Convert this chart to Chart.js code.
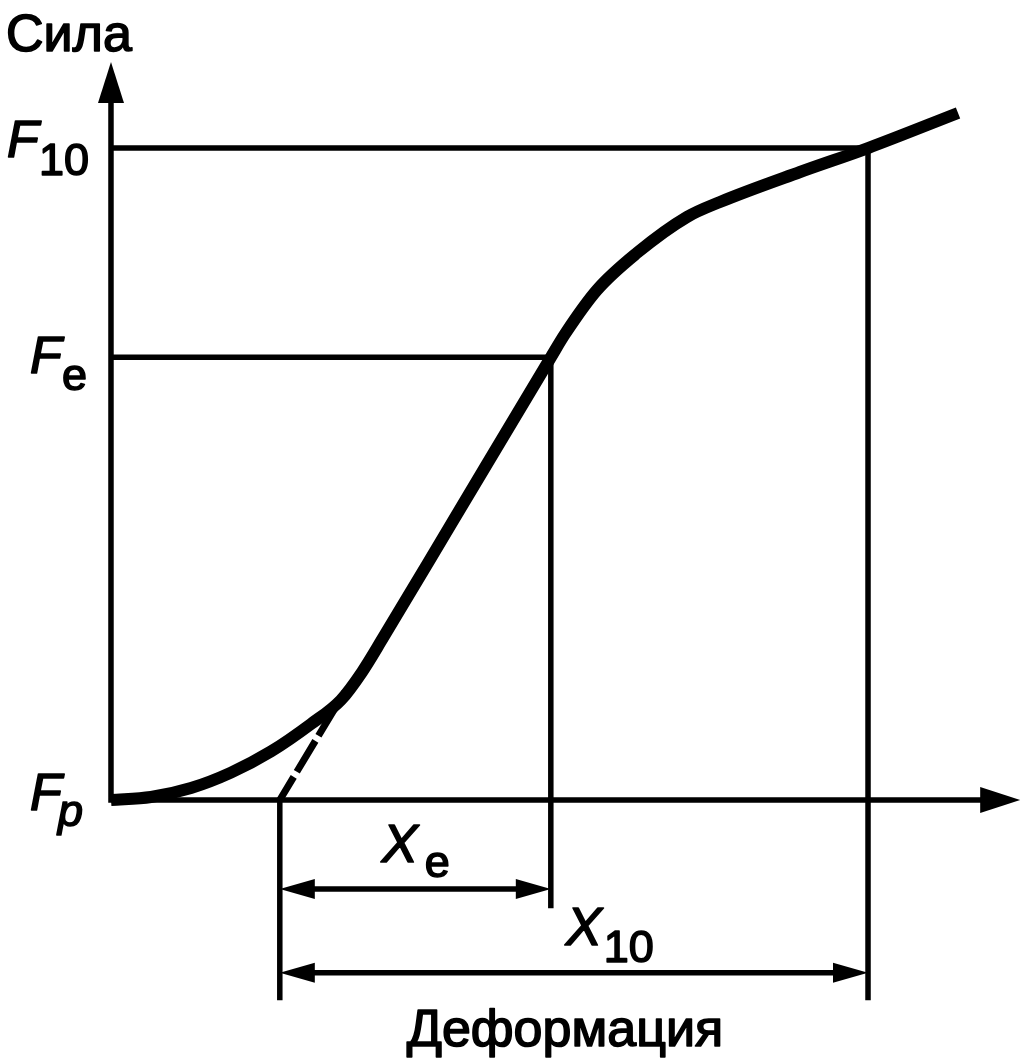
<!DOCTYPE html>
<html>
<head>
<meta charset="utf-8">
<script src="https://cdn.jsdelivr.net/npm/chart.js@4.4.1/dist/chart.umd.min.js"></script>
<style>
  html, body { margin: 0; padding: 0; background: #fff; }
  #wrap { position: relative; width: 1022px; height: 1061px; }
</style>
</head>
<body>
<div id="wrap"><canvas id="chart"></canvas></div>
<script>
// force / deformation curve (units: X10 = 100 on x, F10 = 100 on y)
const curveX = [0, 5.28, 10.57, 15.85, 21.14, 26.42, 30.38, 33.16, 35.93, 44.78, 58.1, 59.97, 64.2, 69.48, 76.09, 80.45, 91.02, 100, 111.89];
const curveY = [0, 0.46, 1.84, 4.2, 7.45, 11.66, 15.34, 19.63, 24.85, 42.02, 67.9, 71.47, 78.22, 83.9, 89.42, 91.72, 96.32, 100, 105.37];

// tangent at the start of the linear part (dashed)
const tangentX = [22.3, 30.9];
const tangentY = [0, 16.6];

// characteristic values
const forceF10 = 100;
const forceFe = 67.9;
const defStart = 22.3;
const defXe = 58.1;
const defX10 = 100;

// axis ranges so the origin sits where the reference puts it
const xRange = [-14.66, 120.34];
const yRange = [-40.03, 122.7];

// drawing extents (not data)
const axisTipX = 120.1, axisTipY = 113.2;
const extLow = -30.7, extLowXe = -16.6;
const dimYe = -13.65, dimY10 = -26.5;

const black = '#000';
const pts = (xs, ys) => xs.map((x, i) => ({ x: x, y: ys[i] }));
const thin = (data) => ({ data: data, borderColor: black, borderWidth: 5.5, pointRadius: 0, borderJoinStyle: 'miter', tension: 0, clip: false });

const datasets = [
  { data: pts(curveX, curveY), borderColor: black, borderWidth: 12, pointRadius: 0, cubicInterpolationMode: 'monotone', clip: false },
  { data: pts(tangentX, tangentY), borderColor: black, borderWidth: 7, pointRadius: 0, borderDash: [36, 6], borderDashOffset: 9, clip: false },
  thin([{ x: 0, y: axisTipY - 4.6 }, { x: 0, y: 0 }, { x: axisTipX - 4, y: 0 }]),
  thin([{ x: 0, y: forceF10 }, { x: defX10, y: forceF10 }, { x: defX10, y: extLow }]),
  thin([{ x: 0, y: forceFe }, { x: defXe, y: forceFe }, { x: defXe, y: extLowXe }]),
  thin([{ x: defStart, y: 0 }, { x: defStart, y: extLow }]),
  thin([{ x: defStart + 2.6, y: dimYe }, { x: defXe - 2.6, y: dimYe }]),
  thin([{ x: defStart + 2.6, y: dimY10 }, { x: defX10 - 2.6, y: dimY10 }])
];

// arrow heads: tip in data units, direction, length / half width in px
const arrows = [
  { x: 0, y: axisTipY, dir: 'up', len: 41, half: 13 },
  { x: axisTipX, y: 0, dir: 'right', len: 40, half: 13 },
  { x: defStart, y: dimYe, dir: 'left', len: 35, half: 10 },
  { x: defXe, y: dimYe, dir: 'right', len: 35, half: 10 },
  { x: defStart, y: dimY10, dir: 'left', len: 35, half: 10 },
  { x: defX10, y: dimY10, dir: 'right', len: 35, half: 10 }
];

const FONT = '"Liberation Sans", Arial, sans-serif';

const sketchPlugin = {
  id: 'sketch',
  afterDatasetsDraw(chart) {
    const ctx = chart.ctx;
    const sx = chart.scales.x, sy = chart.scales.y;
    ctx.save();
    ctx.fillStyle = black;
    ctx.strokeStyle = black;

    arrows.forEach(a => {
      const px = sx.getPixelForValue(a.x), py = sy.getPixelForValue(a.y);
      ctx.beginPath();
      ctx.moveTo(px, py);
      if (a.dir === 'up') { ctx.lineTo(px - a.half, py + a.len); ctx.lineTo(px + a.half, py + a.len); }
      if (a.dir === 'right') { ctx.lineTo(px - a.len, py - a.half); ctx.lineTo(px - a.len, py + a.half); }
      if (a.dir === 'left') { ctx.lineTo(px + a.len, py - a.half); ctx.lineTo(px + a.len, py + a.half); }
      ctx.closePath();
      ctx.fill();
    });

    // text drawn with a thin outline so it gets the heavier look of the reference
    const txt = (s, x, y, size, italic, align) => {
      ctx.font = (italic ? 'italic ' : '') + size + 'px ' + FONT;
      ctx.textAlign = align || 'left';
      ctx.textBaseline = 'alphabetic';
      ctx.lineWidth = 1.6;
      ctx.lineJoin = 'round';
      ctx.fillText(s, x, y);
      ctx.strokeText(s, x, y);
    };

    const ax = sx.getPixelForValue(0), ay = sy.getPixelForValue(0);
    const yTip = sy.getPixelForValue(axisTipY);
    const y10 = sy.getPixelForValue(forceF10), ye = sy.getPixelForValue(forceFe);
    const x0 = sx.getPixelForValue(defStart), x10 = sx.getPixelForValue(defX10);

    txt('Сила', ax - 105, yTip - 11, 52, false);

    txt('F', ax - 104, y10 + 9, 52, true);
    txt('10', ax - 72, y10 + 27, 45, false);

    txt('F', ax - 81, ye + 16, 52, true);
    txt('e', ax - 49, ye + 33, 45, false);

    txt('F', ax - 81, ay + 10, 52, true);
    txt('p', ax - 53, ay + 26, 45, true);

    txt('X', x0 + 102, ay + 62, 54, true);
    txt('e', x0 + 145, ay + 77, 45, false);

    txt('X', x0 + 286, ay + 145, 54, true);
    txt('10', x0 + 324, ay + 162, 45, false);

    txt('Деформация', (x0 + x10) / 2 - 9, ay + 246, 52, false, 'center');

    ctx.restore();
  }
};

new Chart(document.getElementById('chart'), {
  type: 'line',
  data: { datasets: datasets },
  options: {
    responsive: true,
    maintainAspectRatio: false,
    animation: false,
    layout: { padding: 0 },
    plugins: { legend: { display: false }, tooltip: { enabled: false } },
    scales: {
      x: { type: 'linear', min: xRange[0], max: xRange[1], display: false },
      y: { type: 'linear', min: yRange[0], max: yRange[1], display: false }
    }
  },
  plugins: [sketchPlugin]
});
</script>
</body>
</html>
